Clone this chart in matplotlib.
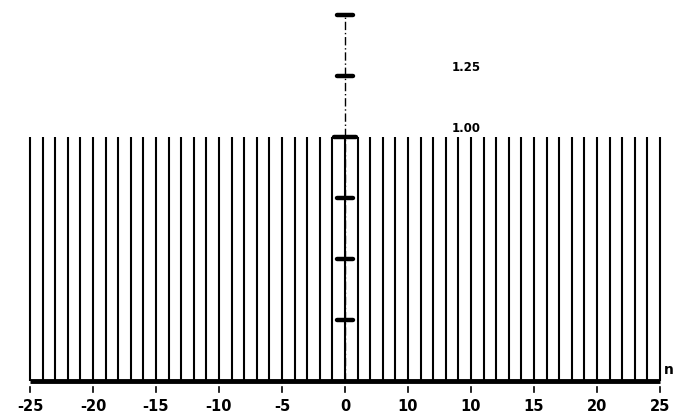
import matplotlib
matplotlib.use("Agg")
import matplotlib.pyplot as plt
import numpy as np

# Data: unit step sequence u[n] over n = -25..25 (all samples equal 1)
n_values = list(range(-25, 26))
u_values = [1.0] * len(n_values)

x_tick_positions = [-25, -20, -15, -10, -5, 0, 5, 10, 15, 20, 25]
x_tick_labels = ["-25", "-20", "-15", "-10", "-5", "0", "10", "10", "15", "20", "25"]
y_tick_positions = [0.25, 0.5, 0.75, 1.0, 1.25, 1.5]
y_label_values = [1.25, 1.00]
y_label_texts = ["1.25", "1.00"]

fig = plt.figure(figsize=(6.79, 4.19), dpi=100)
ax = fig.add_axes([0, 0, 1, 1])
ax.set_xlim(-27.38, 26.51)
ax.set_ylim(-0.156, 1.561)
ax.axis("off")

# stems
ax.vlines(n_values, 0, u_values, colors="black", linewidth=1.5)

# baseline
ax.plot([n_values[0], n_values[-1]], [0, 0], color="black", linewidth=3.5,
        solid_capstyle="butt")

# vertical axis (dash-dot)
ax.plot([0, 0], [0, 1.5], color="black", linewidth=1.0, linestyle=(0, (6, 2, 1, 2)))

# y tick bars
for yv in y_tick_positions:
    half = 0.9 if yv == 1.0 else 0.65
    ax.plot([-half, half], [yv, yv], color="black", linewidth=3.2,
            solid_capstyle="round")

# x tick marks below baseline
for xv in x_tick_positions:
    ax.plot([xv, xv], [-0.025, -0.045], color="black", linewidth=1.2)

# x tick labels
for xv, lab in zip(x_tick_positions, x_tick_labels):
    ax.text(xv, -0.105, lab, ha="center", va="center", fontsize=10.5,
            fontweight="bold", family="DejaVu Sans")

# y value labels
for yv, lab in zip(y_label_values, y_label_texts):
    ax.text(9.6, yv + 0.035, lab, ha="center", va="center", fontsize=8.5,
            fontweight="bold", family="DejaVu Sans")

ax.text(25.7, 0.045, "n", ha="center", va="center", fontsize=10,
        fontweight="bold", family="DejaVu Sans")

fig.savefig("out.png", dpi=100)
